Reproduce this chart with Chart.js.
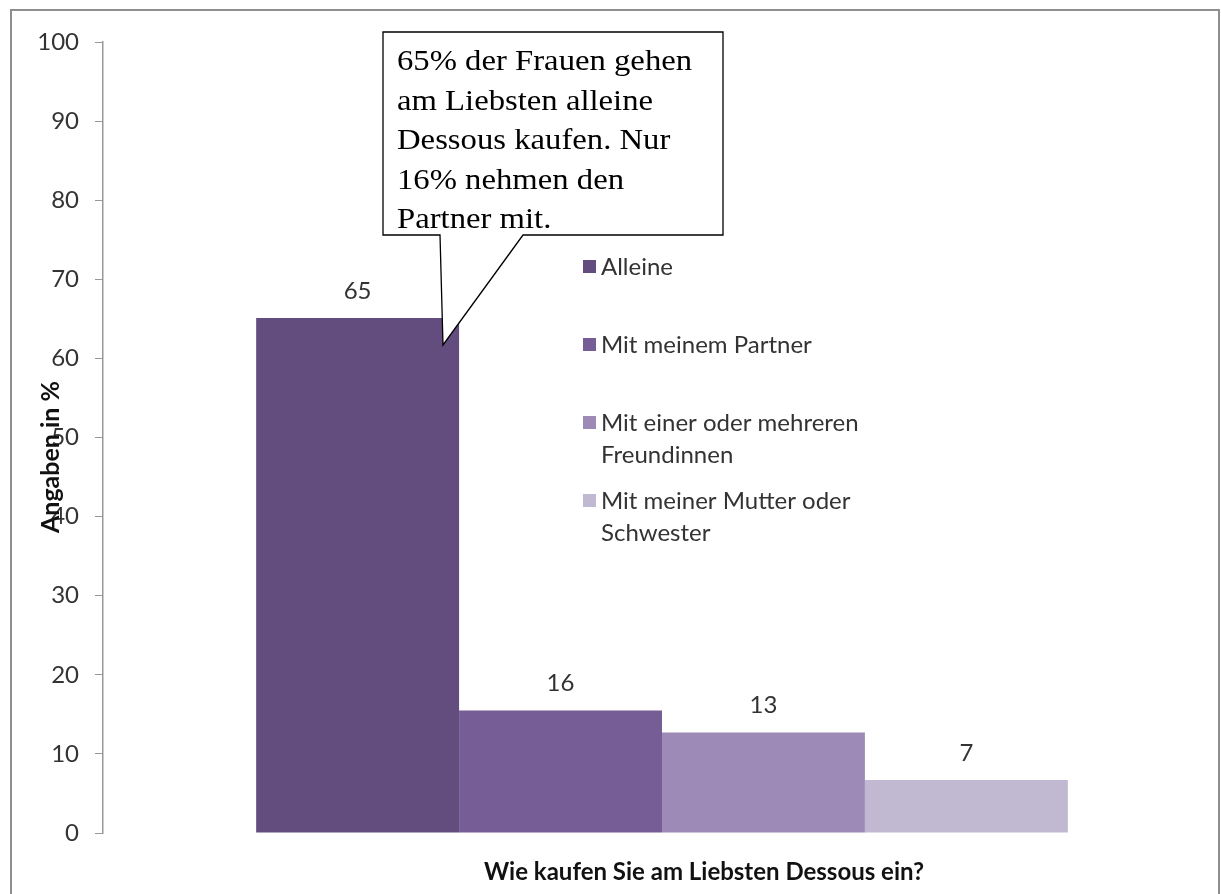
<!DOCTYPE html>
<html>
<head>
  <title>Wie kaufen Sie am Liebsten Dessous ein?</title>
  <script src="https://cdn.jsdelivr.net/npm/chart.js"></script>
  <style>
    body { margin: 0; background: #fff; }
    #wrap { position: relative; width: 1221px; height: 894px; }
  </style>
</head>
<body>
<div id="wrap">
  <canvas id="dessousChart" width="1221" height="894"></canvas>
</div>

<script>
  // Daten
  const categories = ['Wie kaufen Sie am Liebsten Dessous ein?'];
  const seriesNames = ['Alleine', 'Mit meinem Partner', 'Mit einer oder mehreren Freundinnen', 'Mit meiner Mutter oder Schwester'];
  const seriesValues = [65.1, 15.5, 12.7, 6.7];
  const seriesColors = ['#634c7e', '#775d96', '#9e8ab6', '#c1b8d2'];
  const legendLines = [['Alleine'], ['Mit meinem Partner'], ['Mit einer oder mehreren', 'Freundinnen'], ['Mit meiner Mutter oder', 'Schwester']];
  const yTicks = [0, 10, 20, 30, 40, 50, 60, 70, 80, 90, 100];
  const yTitle = 'Angaben in %';
  const calloutLines = ['65% der Frauen gehen', 'am Liebsten alleine', 'Dessous kaufen. Nur', '16% nehmen den', 'Partner mit.'];

  const sansFont = 'Lato, "Open Sans", sans-serif';

  // Rahmen, Titel, Werte, Legende und Sprechblase
  const extras = {
    id: 'extras',
    beforeDraw(chart) {
      const c = chart.ctx;
      c.save();
      c.fillStyle = '#fff';
      c.fillRect(0, 0, chart.width, chart.height);
      c.strokeStyle = '#8e8e8e';
      c.lineWidth = 2;
      c.strokeRect(11, 10, 1208, 900);
      c.restore();
    },
    afterDatasetsDraw(chart) {
      const c = chart.ctx;
      const area = chart.chartArea;
      c.save();

      // Werte über den Balken
      c.fillStyle = '#333';
      c.font = '24px ' + sansFont;
      c.textAlign = 'center';
      c.textBaseline = 'middle';
      chart.data.datasets.forEach((ds, i) => {
        const bar = chart.getDatasetMeta(i).data[0];
        c.fillText(String(Math.round(ds.data[0])), bar.x, bar.y - 27);
      });

      // Achsentitel
      c.fillStyle = '#111';
      c.font = 'bold 24px ' + sansFont;
      c.fillText(categories[0], 704, area.bottom + 39);
      c.save();
      c.translate(51, 457);
      c.rotate(-Math.PI / 2);
      c.font = 'bold 25px ' + sansFont;
      c.fillText(yTitle, 0, 0);
      c.restore();

      // Legende
      c.textAlign = 'left';
      c.font = '24px ' + sansFont;
      const legendY = [267, 345, 423, 501];
      legendLines.forEach((lines, i) => {
        c.fillStyle = seriesColors[i];
        c.fillRect(583, legendY[i] - 7, 13, 13);
        c.fillStyle = '#333';
        lines.forEach((t, j) => c.fillText(t, 601, legendY[i] + j * 32));
      });

      // Sprechblase
      const bx = 383, by = 32, bw = 340, bh = 203;
      const tip = { x: 443, y: 345 };
      c.beginPath();
      c.moveTo(bx, by);
      c.lineTo(bx + bw, by);
      c.lineTo(bx + bw, by + bh);
      c.lineTo(523, by + bh);
      c.lineTo(tip.x, tip.y);
      c.lineTo(440, by + bh);
      c.lineTo(bx, by + bh);
      c.closePath();
      c.fillStyle = '#fff';
      c.fill();
      c.strokeStyle = '#000';
      c.lineWidth = 1.3;
      c.stroke();
      c.fillStyle = '#000';
      c.font = '30px "Liberation Serif", "Times New Roman", serif';
      c.textBaseline = 'alphabetic';
      calloutLines.forEach((t, j) => {
        c.save();
        c.translate(397, 70 + j * 39.5);
        c.scale(1.09, 1);
        c.fillText(t, 0, 0);
        c.restore();
      });

      c.restore();
    }
  };

  new Chart(document.getElementById('dessousChart'), {
    type: 'bar',
    data: {
      labels: categories,
      datasets: seriesNames.map((name, i) => ({
        label: name,
        data: [seriesValues[i]],
        backgroundColor: seriesColors[i],
        borderWidth: 0
      }))
    },
    options: {
      responsive: false,
      animation: false,
      layout: { padding: { top: 42, bottom: 61, left: 0, right: 0 } },
      datasets: { bar: { barPercentage: 1.0, categoryPercentage: 0.726 } },
      plugins: {
        legend: { display: false },
        tooltip: { enabled: false }
      },
      scales: {
        x: { display: false },
        y: {
          min: 0,
          max: 100,
          afterBuildTicks(scale) { scale.ticks = yTicks.map(v => ({ value: v })); },
          afterFit(scale) { scale.width = 103; },
          grid: {
            drawOnChartArea: false,
            drawTicks: true,
            tickLength: 8,
            color: '#999'
          },
          border: { display: true, color: '#999', width: 1.5 },
          ticks: {
            padding: 16,
            color: '#333',
            font: { family: 'Lato', size: 24 }
          }
        }
      }
    },
    plugins: [extras]
  });
</script>
</body>
</html>
